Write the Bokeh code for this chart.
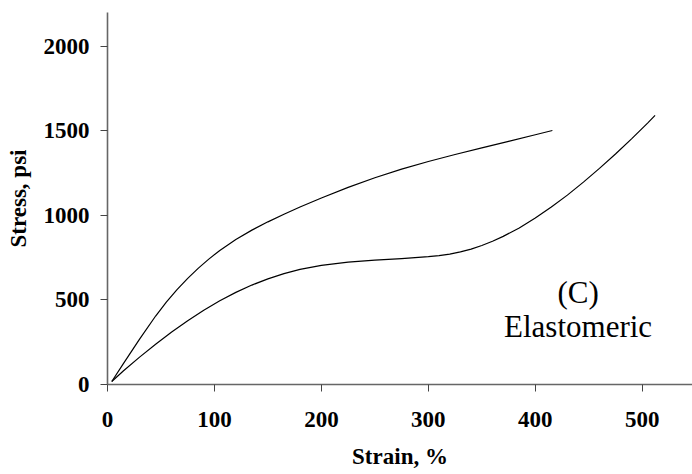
from bokeh.plotting import figure
from bokeh.models import Range1d, FixedTicker, Label
from bokeh.embed import file_html
from bokeh.resources import INLINE

# Upper curve (strain %, stress psi)
upper_strain = [4, 15, 30, 45, 55, 65, 75, 85, 95, 105, 120, 135, 150, 165, 180, 200, 225, 250, 275, 300,
                325, 350, 375, 400, 416]
upper_stress = [18, 125, 268, 405, 487, 561, 628, 688, 743, 793, 858, 913, 962, 1007, 1050, 1103, 1166, 1223,
                1274, 1319, 1360, 1399, 1438, 1477, 1502]

# Lower curve (strain %, stress psi)
lower_strain = [4, 15, 30, 45, 60, 75, 90, 105, 120, 135, 150, 165, 180, 200, 225, 250, 275, 300, 310, 320,
                330, 340, 350, 360, 370, 385, 400, 415, 430, 445, 460, 475, 490, 505, 512]
lower_stress = [18, 81, 162, 238, 310, 377, 439, 495, 545, 588, 625, 656, 681, 705, 724, 735, 745, 756, 762, 771,
                784, 801, 822, 847, 876, 926, 985, 1050, 1120, 1197, 1278, 1363, 1453, 1546, 1592]

x_ticks = [0, 100, 200, 300, 400, 500]
y_ticks = [0, 500, 1000, 1500, 2000]

FONT = "Liberation Serif"

p = figure(width=692, height=474, x_range=Range1d(0, 547), y_range=Range1d(0, 2200),
           output_backend="svg", toolbar_location=None,
           min_border_left=107, min_border_right=0, min_border_top=12, min_border_bottom=90)
p.background_fill_color = "white"
p.border_fill_color = "white"
p.outline_line_color = None
p.xgrid.grid_line_color = None
p.ygrid.grid_line_color = None

p.line(upper_strain, upper_stress, line_color="black", line_width=1.2)
p.line(lower_strain, lower_stress, line_color="black", line_width=1.2)

for ax in (p.xaxis[0], p.yaxis[0]):
    ax.axis_line_color = "#666666"
    ax.axis_line_width = 1.6
    ax.major_tick_line_color = "#444444"
    ax.major_tick_line_width = 1
    ax.major_tick_in = 0
    ax.major_tick_out = 7
    ax.minor_tick_line_color = None
    ax.major_label_text_font = FONT
    ax.major_label_text_font_style = "bold"
    ax.major_label_text_font_size = "23px"
    ax.major_label_text_color = "black"
    ax.axis_label_text_font = FONT
    ax.axis_label_text_font_style = "bold"
    ax.axis_label_text_font_size = "23px"
    ax.axis_label_text_color = "black"

p.xaxis.ticker = FixedTicker(ticks=x_ticks)
p.yaxis.ticker = FixedTicker(ticks=y_ticks)
p.xaxis.axis_label = "Strain, %"
p.yaxis.axis_label = "Stress, psi"
p.xaxis.major_label_standoff = 20
p.yaxis.major_label_standoff = 11
p.xaxis.axis_label_standoff = 14
p.yaxis.axis_label_standoff = 10

p.add_layout(Label(x=440, y=547, text="(C)", text_align="center", text_baseline="alphabetic",
                   text_font=FONT, text_font_size="31px", text_color="black"))
p.add_layout(Label(x=440, y=342, text="Elastomeric", text_align="center", text_baseline="alphabetic",
                   text_font=FONT, text_font_size="31px", text_color="black"))

open("out.html", "w").write(file_html(p, INLINE))
